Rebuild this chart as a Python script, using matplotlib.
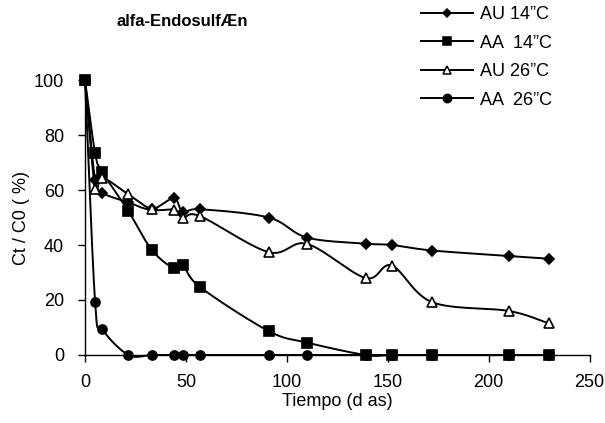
import numpy as np
import matplotlib
matplotlib.use("Agg")
import matplotlib.pyplot as plt
from matplotlib.lines import Line2D

plt.rcParams['font.family'] = ['Liberation Sans', 'DejaVu Sans']

dias = [0, 5, 8.5, 21.5, 33, 44, 48.5, 57, 91, 110, 139, 152, 172, 210, 230]
au14 = [100, 63.5, 59, 55.5, 53, 57, 52, 53, 50, 42.7, 40.5, 40, 38, 36, 35]
aa14 = [100, 73.5, 66.7, 52.3, 38.3, 31.5, 32.7, 24.7, 8.7, 4.5, 0, 0, 0, 0, 0]
au26 = [100, 60.5, 64.5, 58.4, 53, 52.8, 49.8, 50.5, 37.4, 40.4, 28, 32.5, 19.2, 16, 11.5]
aa26 = [100, 19.3, 9.5, 0, 0, 0, 0, 0, 0, 0, 0, 0, 0, 0, 0]

labels = ['AU 14\u201dC', 'AA  14\u201dC', 'AU 26\u201dC', 'AA  26\u201dC']
series = [au14, aa14, au26, aa26]
markers = [dict(marker='D', ms=5, mfc='black'),
           dict(marker='s', ms=7, mfc='black'),
           dict(marker='^', ms=7, mfc='white'),
           dict(marker='o', ms=6.5, mfc='black')]
leg_ms = [4.5, 6, 5.5, 6]

title = 'alfa-Endosulf\u00c6n'
xlabel = 'Tiempo (d as)'
ylabel = 'Ct / C0 ( %)'


def smooth(x, y, n=30):
    x = np.asarray(x, float); y = np.asarray(y, float)
    px = np.concatenate([[2 * x[0] - x[1]], x, [2 * x[-1] - x[-2]]])
    py = np.concatenate([[2 * y[0] - y[1]], y, [2 * y[-1] - y[-2]]])
    xs, ys = [], []
    for i in range(1, len(px) - 2):
        p0, p1, p2, p3 = (np.array([px[j], py[j]]) for j in (i - 1, i, i + 1, i + 2))
        c1 = p1 + (p2 - p0) / 6.0
        c2 = p2 - (p3 - p1) / 6.0
        t = np.linspace(0, 1, n)[:, None]
        b = (1 - t) ** 3 * p1 + 3 * (1 - t) ** 2 * t * c1 + 3 * (1 - t) * t ** 2 * c2 + t ** 3 * p2
        xs.append(b[:, 0]); ys.append(b[:, 1])
    return np.concatenate(xs), np.concatenate(ys)


fig = plt.figure(figsize=(6.05, 4.23), dpi=100)
ax = fig.add_axes([0.1405, 0.1608, 0.834, 0.650])

handles = []
for ys, mk, lab, lms in zip(series, markers, labels, leg_ms):
    sx, sy = smooth(dias, ys)
    ax.plot(sx, sy, color='black', lw=1.4, zorder=2)
    ax.plot(dias, ys, ls='none', color='black', mec='black', mew=1.2, zorder=3, **mk)
    hk = dict(mk); hk['ms'] = lms
    handles.append(Line2D([], [], color='black', lw=1.4, mec='black', mew=1.1, **hk))

ax.set_xlim(0, 250)
ax.set_ylim(0, 100)
ax.set_xticks([0, 50, 100, 150, 200, 250])
ax.set_yticks([0, 20, 40, 60, 80, 100])
ax.spines['top'].set_visible(False)
ax.spines['right'].set_visible(False)
for s in ('left', 'bottom'):
    ax.spines[s].set_linewidth(1.0)
ax.tick_params(direction='out', length=5, width=1.0, labelsize=13)
ax.tick_params(axis='x', pad=9)
ax.tick_params(axis='y', pad=10)
ax.set_xlabel(xlabel, fontsize=13, labelpad=1)
ax.set_ylabel(ylabel, fontsize=13, labelpad=3)
for l in ax.get_lines():
    l.set_clip_on(False)

fig.text(0.302, 0.948, title, fontsize=12, fontweight='bold', ha='center', va='center')

fig.legend(handles, labels, loc='upper left', bbox_to_anchor=(0.684, 1.003),
           frameon=False, fontsize=13, handlelength=2.9, handletextpad=0.35,
           labelspacing=0.64, borderaxespad=0)

fig.savefig('out.png', dpi=100)
